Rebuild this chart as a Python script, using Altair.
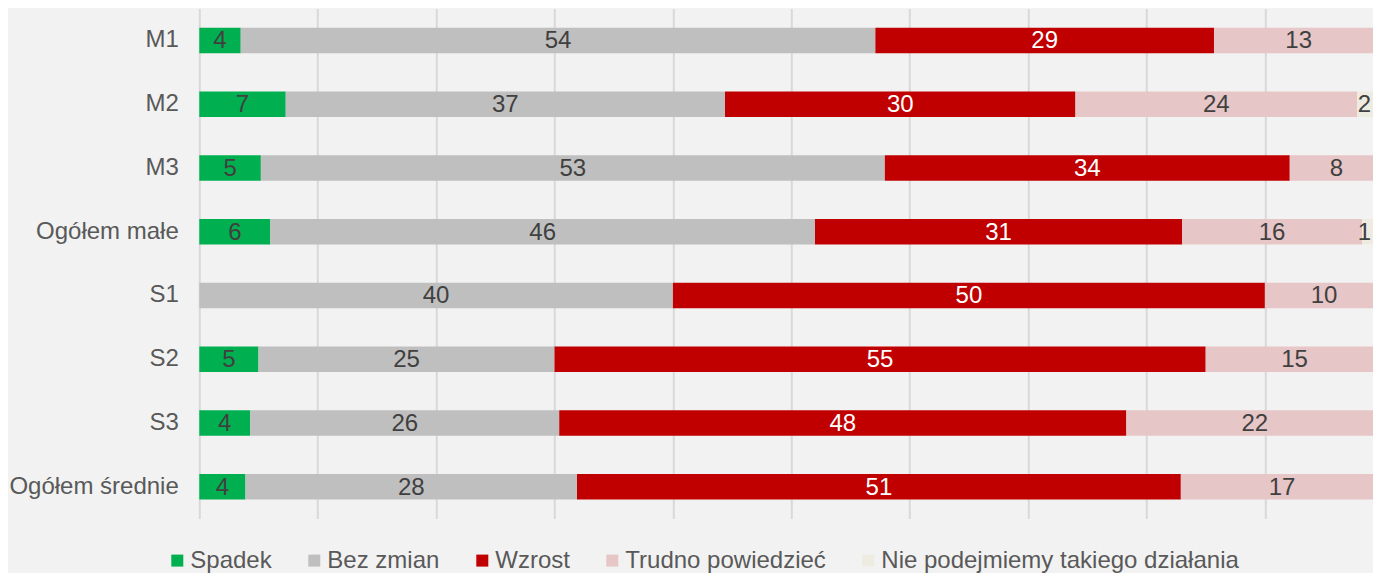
import altair as alt
import pandas as pd

categories = ["M1", "M2", "M3", "Ogółem małe", "S1", "S2", "S3", "Ogółem średnie"]
series_names = ["Spadek", "Bez zmian", "Wzrost", "Trudno powiedzieć", "Nie podejmiemy takiego działania"]
series_colors = ["#00B050", "#BFBFBF", "#C00000", "#E6C6C6", "#EEECE1"]

spadek = [3.5, 7.3, 5.2, 6.0, 0.0, 5.0, 4.3, 3.9]
bez_zmian = [53.6, 37.1, 52.7, 46.0, 40.0, 25.0, 26.1, 28.0]
wzrost = [28.6, 29.6, 34.2, 31.0, 50.0, 55.0, 47.9, 51.0]
trudno = [14.3, 23.8, 7.9, 15.2, 10.0, 15.0, 21.7, 17.1]
nie_podejmiemy = [0.0, 2.2, 0.0, 1.8, 0.0, 0.0, 0.0, 0.0]

spadek_lbl = ["4", "7", "5", "6", "", "5", "4", "4"]
bez_zmian_lbl = ["54", "37", "53", "46", "40", "25", "26", "28"]
wzrost_lbl = ["29", "30", "34", "31", "50", "55", "48", "51"]
trudno_lbl = ["13", "24", "8", "16", "10", "15", "22", "17"]
nie_podejmiemy_lbl = ["", "2", "", "1", "", "", "", ""]

grid_values = [0, 10, 20, 30, 40, 50, 60, 70, 80, 90, 100]

values = [spadek, bez_zmian, wzrost, trudno, nie_podejmiemy]
labels = [spadek_lbl, bez_zmian_lbl, wzrost_lbl, trudno_lbl, nie_podejmiemy_lbl]

rows = []
for si, (name, vals, lbls) in enumerate(zip(series_names, values, labels)):
    for cat, v, l in zip(categories, vals, lbls):
        if v > 0:
            rows.append({"cat": cat, "series": name, "order": si, "value": v, "label": l})
df = pd.DataFrame(rows)

FONT = "Liberation Sans, Arial, sans-serif"

base = alt.Chart(df).transform_stack(
    stack="value",
    groupby=["cat"],
    as_=["x0", "x1"],
    sort=[alt.SortField("order", order="ascending")],
).transform_calculate(
    # labels sit in the middle of their segment, kept inside the visible edge
    mid="min((datum.x0 + datum.x1) / 2, 98.4)"
)

yenc = alt.Y(
    "cat:N",
    sort=categories,
    title=None,
    scale=alt.Scale(paddingInner=0.6, paddingOuter=0.3),
    axis=alt.Axis(
        domain=False,
        ticks=False,
        grid=False,
        labelFont=FONT,
        labelFontSize=24,
        labelColor="#595959",
        labelPadding=21,
        labelAlign="right",
    ),
)

# the full 0-100 range runs past the right edge of the picture, as in the original
xscale = alt.Scale(domain=[0, 100], nice=False, zero=True, range=[0, 1184])

bars = base.mark_bar().encode(
    x=alt.X(
        "x0:Q",
        scale=xscale,
        title=None,
        axis=alt.Axis(
            values=grid_values,
            labels=False,
            ticks=False,
            domain=False,
            grid=True,
            gridColor="#D9D9D9",
            gridWidth=2,
        ),
    ),
    x2="x1:Q",
    y=yenc,
    color=alt.Color(
        "series:N",
        scale=alt.Scale(domain=series_names, range=series_colors),
        sort=series_names,
        legend=alt.Legend(
            title=None,
            orient="none",
            legendX=-34,
            legendY=540,
            direction="horizontal",
            columns=5,
            symbolType="square",
            symbolSize=144,
            symbolStrokeWidth=0,
            labelFont=FONT,
            labelFontSize=24,
            labelColor="#595959",
            labelOffset=1,
            columnPadding=30,
            padding=0,
            labelLimit=600,
        ),
    ),
)

texts = base.mark_text(font=FONT, fontSize=24, baseline="middle", align="center", dy=1).encode(
    x=alt.X("mid:Q", scale=xscale),
    y=alt.Y("cat:N", sort=categories),
    text="label:N",
    color=alt.condition(alt.datum.series == "Wzrost", alt.value("#FFFFFF"), alt.value("#404040")),
)

chart = (
    alt.layer(bars, texts)
    .properties(
        width=1173.7,
        height=510,
        autosize=alt.AutoSizeParams(type="none"),
        padding={"left": 191.3, "top": 0.6, "right": 0, "bottom": 54.4},
    )
    .configure(background="#F2F2F2")
    .configure_view(stroke=None)
)

chart.save("out.html", embed_options={"renderer": "svg", "actions": False})
